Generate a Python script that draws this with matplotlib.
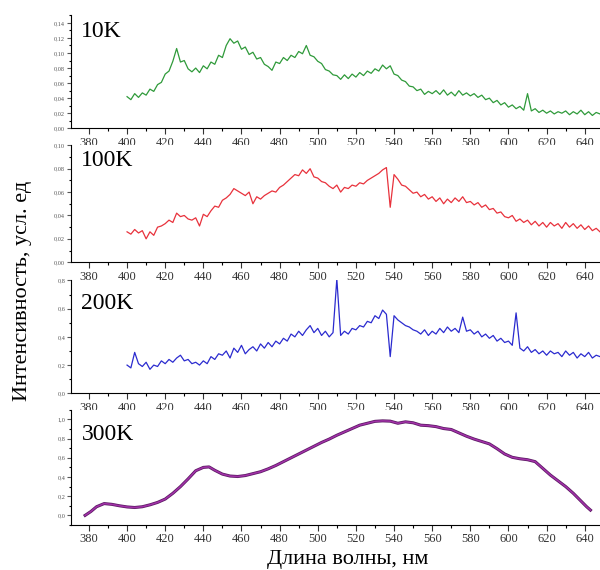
import numpy as np
import matplotlib
matplotlib.use("Agg")
import matplotlib.pyplot as plt
from matplotlib.ticker import MultipleLocator, FuncFormatter

plt.rcParams['font.family'] = ['Liberation Serif', 'DejaVu Serif']

# wavelength grid of the noisy spectra (nm)
wl = np.arange(400, 650, 2)

i_10k = [
    .042, .038, .046, .041, .047, .044, .052, .049, .058, .061,
    .072, .076, .089, .106, .088, .090, .079, .075, .080, .074,
    .083, .079, .088, .085, .097, .094, .110, .119, .113, .116,
    .105, .108, .098, .101, .092, .094, .085, .082, .077, .088,
    .086, .094, .090, .097, .094, .102, .099, .110, .097, .095,
    .089, .086, .078, .076, .071, .070, .065, .071, .066, .072,
    .068, .074, .070, .076, .073, .079, .076, .084, .079, .083,
    .072, .070, .064, .062, .056, .055, .050, .052, .045, .049,
    .046, .050, .045, .051, .044, .048, .043, .050, .044, .047,
    .043, .046, .041, .044, .038, .040, .034, .037, .031, .034,
    .028, .031, .026, .029, .024, .046, .023, .026, .021, .024,
    .020, .023, .019, .022, .020, .023, .018, .022, .019, .024,
    .018, .022, .017, .021, .019,
]

i_100k = [
    .026, .024, .028, .025, .027, .020, .026, .023, .030, .031,
    .033, .036, .034, .042, .039, .040, .037, .036, .038, .031,
    .041, .039, .044, .048, .047, .053, .055, .058, .063, .061,
    .059, .057, .060, .050, .056, .054, .057, .059, .061, .060,
    .064, .066, .069, .072, .075, .074, .079, .076, .080, .073,
    .072, .069, .068, .065, .063, .066, .060, .064, .063, .066,
    .065, .068, .067, .070, .072, .074, .076, .079, .081, .047,
    .075, .071, .066, .065, .062, .059, .060, .056, .058, .054,
    .056, .052, .055, .050, .054, .051, .055, .052, .056, .051,
    .052, .049, .051, .047, .049, .045, .046, .042, .043, .039,
    .038, .040, .035, .037, .034, .036, .032, .035, .031, .034,
    .030, .034, .031, .033, .029, .034, .030, .033, .029, .032,
    .028, .031, .027, .029, .026,
]

i_200k = [
    .20, .18, .29, .21, .19, .22, .17, .20, .19, .23,
    .21, .24, .22, .25, .27, .23, .24, .21, .22, .20,
    .23, .21, .26, .24, .28, .27, .30, .25, .32, .29,
    .34, .28, .31, .33, .30, .35, .32, .36, .33, .37,
    .35, .39, .37, .42, .40, .44, .41, .45, .48, .43,
    .46, .41, .44, .40, .43, .81, .41, .44, .42, .46,
    .45, .48, .47, .51, .50, .55, .53, .59, .56, .26,
    .55, .52, .50, .48, .47, .45, .44, .42, .45, .41,
    .44, .42, .46, .43, .47, .44, .46, .43, .54, .44,
    .45, .42, .44, .40, .42, .39, .41, .37, .39, .36,
    .37, .34, .57, .32, .30, .33, .29, .31, .28, .30,
    .27, .30, .28, .29, .26, .30, .27, .29, .25, .28,
    .26, .29, .25, .27, .26,
]

wl_300k = [378, 381, 384, 388, 392, 396, 400, 404, 408, 412, 416, 420, 424,
           428, 432, 436, 440, 443, 446, 450, 454, 458, 462, 466, 470, 474,
           478, 482, 486, 490, 494, 498, 502, 506, 510, 514, 518, 522, 526,
           530, 534, 538, 542, 546, 550, 554, 558, 562, 566, 570, 574, 578,
           582, 586, 590, 594, 598, 602, 606, 610, 614, 618, 622, 626, 630,
           634, 638, 641, 643]
i_300k = [.00, .04, .09, .123, .115, .10, .088, .082, .090, .110, .135, .170,
          .230, .300, .380, .465, .500, .505, .470, .430, .410, .405, .415,
          .435, .455, .485, .520, .560, .600, .640, .680, .720, .760, .795,
          .835, .870, .905, .940, .960, .980, .985, .982, .960, .975, .965,
          .940, .935, .925, .905, .895, .860, .825, .795, .770, .745, .695,
          .640, .605, .590, .580, .560, .490, .420, .360, .300, .230, .150,
          .090, .055]

labels = ["10K", "100K", "200K", "300K"]
ylims = [(0, 0.15), (0, 0.10), (0, 0.8), (-0.1, 1.1)]
ymaj = [0.02, 0.02, 0.2, 0.2]
ydec = [2, 2, 1, 1]
colors = ["#2f9a3a", "#e8323c", "#2b2bcf", "#a232a8"]
# [left, bottom, width, height] in figure fraction
boxes = [[0.118, 0.775, 0.882, 0.198],
         [0.118, 0.540, 0.882, 0.205],
         [0.118, 0.310, 0.882, 0.198],
         [0.118, 0.079, 0.882, 0.202]]
lab_y = [0.86, 0.87, 0.80, 0.79]

fig = plt.figure(figsize=(6, 5.7), dpi=100)
series = [(wl, i_10k), (wl, i_100k), (wl, i_200k), (wl_300k, i_300k)]

for k in range(4):
    ax = fig.add_axes(boxes[k])
    x, y = series[k]
    if k == 3:
        ax.plot(x, y, color="#5c1a64", lw=2.2)
        ax.plot(x, y, color=colors[k], lw=1.1)
    else:
        ax.plot(x, y, color=colors[k], lw=0.9)
    ax.set_xlim(370.5, 648)
    ax.set_ylim(*ylims[k])
    for s in ["top", "right"]:
        ax.spines[s].set_visible(False)
    ax.xaxis.set_major_locator(MultipleLocator(20))
    ax.xaxis.set_minor_locator(MultipleLocator(10))
    ax.yaxis.set_major_locator(MultipleLocator(ymaj[k]))
    ax.yaxis.set_minor_locator(MultipleLocator(ymaj[k] / 2))
    d = ydec[k]
    ax.yaxis.set_major_formatter(FuncFormatter(
        lambda v, p, d=d: f"{v:.{d}f}".replace(".", ",").replace("-", "")))
    ax.tick_params(axis="x", which="major", length=4, width=0.8,
                   labelsize=9, colors="#333333", pad=2)
    ax.tick_params(axis="x", which="minor", length=2, width=0.8)
    ax.tick_params(axis="y", which="major", length=3, width=0.8,
                   labelsize=4.5, colors="#555555", pad=1)
    ax.tick_params(axis="y", which="minor", length=1.5, width=0.8)
    ax.text(0.02, lab_y[k], labels[k], transform=ax.transAxes,
            fontsize=17, va="center", ha="left")

fig.text(0.58, 0.018, "Длина волны, нм", fontsize=16, ha="center", va="center")
fig.text(0.037, 0.49, "Интенсивность, усл. ед", fontsize=16, rotation=90,
         ha="center", va="center")

fig.savefig("out.png", dpi=100)
